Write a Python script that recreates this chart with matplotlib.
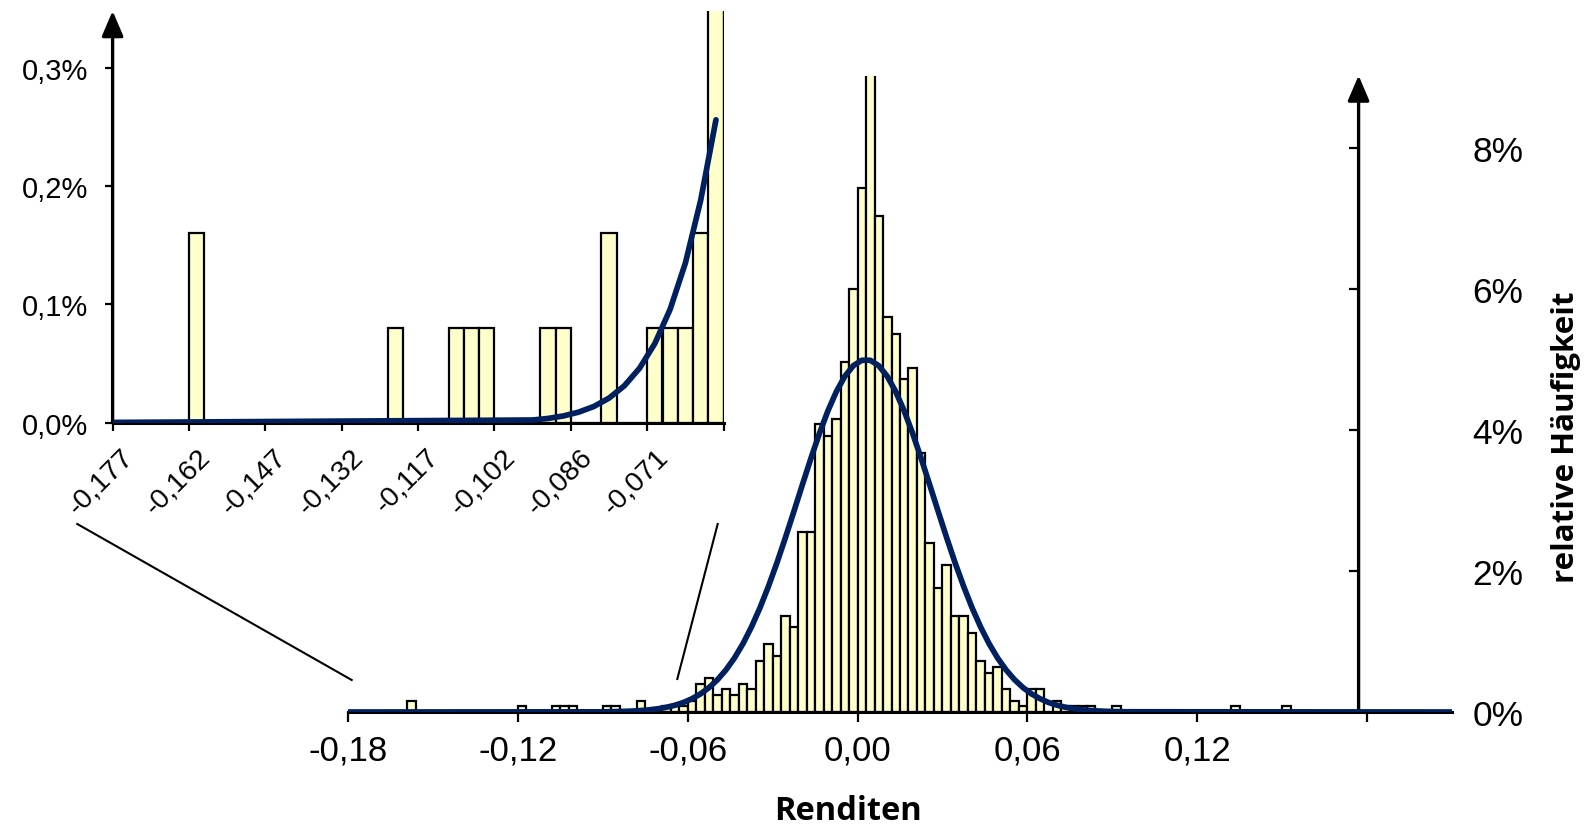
import numpy as np
import matplotlib
matplotlib.use('Agg')
import matplotlib.pyplot as plt
from matplotlib.lines import Line2D
from matplotlib.transforms import ScaledTranslation

plt.rcParams['font.family'] = ['Liberation Sans', 'DejaVu Sans']

# histogram of the returns, bin width 0.003, relative frequency = count / n
bin_width = 0.003
first_bin_left = -0.159
n_obs = 1250
counts = [2, 0, 0, 0, 0, 0, 0, 0, 0, 0, 0, 0, 0,
          1, 0, 0, 0,
          1, 1, 1, 0, 0, 0,
          1, 1, 0, 0,
          2, 0, 0,
          1, 1, 1, 2,
          5, 6, 3, 4, 3, 5, 4, 9, 12, 10, 17, 15, 32, 32, 51, 49, 52, 62, 75,
          93, 131, 88, 70, 67, 59, 61, 46, 30, 22, 26, 17, 17, 14, 9, 7, 8, 4, 2, 1, 4, 4,
          0, 2, 1, 1, 1, 1, 0, 0, 1,
          0, 0, 0, 0, 0, 0, 0, 0, 0, 0, 0, 0, 0,
          1, 0, 0, 0, 0, 0, 1]
bin_centers = first_bin_left + bin_width / 2 + bin_width * np.arange(len(counts))
rel_freq = np.array(counts) / n_obs * 100

# normal curve (in %), read at the bin centres
curve_x = [-0.18, -0.0915, -0.0885, -0.0855, -0.0825, -0.0795, -0.0765, -0.0735, -0.0705,
           -0.0675, -0.0645, -0.0615, -0.0585, -0.0555, -0.0525, -0.0495, -0.0465,
           -0.0435, -0.0405, -0.0375, -0.0345, -0.0315, -0.0285, -0.0255, -0.0225,
           -0.0195, -0.0165, -0.0135, -0.0105, -0.0075, -0.0045, -0.0015,
           0.0015, 0.0045, 0.0075, 0.0105, 0.0135, 0.0165, 0.0195, 0.0225, 0.0255,
           0.0285, 0.0315, 0.0345, 0.0375, 0.0405, 0.0435, 0.0465, 0.0495, 0.0525,
           0.0555, 0.0585, 0.0615, 0.0645, 0.0675, 0.0705, 0.0735, 0.0765, 0.0795,
           0.0825, 0.0855, 0.0885, 0.0915, 0.0945, 0.21]
curve_y = [0.0, 0.0022, 0.0035, 0.0056, 0.0088, 0.0136, 0.0207, 0.0311, 0.0460,
           0.0669, 0.0958, 0.135, 0.188, 0.256, 0.345, 0.457, 0.596,
           0.765, 0.967, 1.204, 1.475, 1.780, 2.113, 2.471, 2.844,
           3.222, 3.595, 3.948, 4.269, 4.544, 4.762, 4.913,
           4.990, 4.990, 4.913, 4.762, 4.544, 4.269, 3.948, 3.595, 3.222,
           2.844, 2.471, 2.113, 1.780, 1.475, 1.204, 0.967, 0.765, 0.596,
           0.457, 0.345, 0.256, 0.188, 0.135, 0.0958, 0.0669, 0.0460, 0.0311,
           0.0207, 0.0136, 0.0088, 0.0056, 0.0035, 0.0]
curve_x = np.array(curve_x)
curve_y = np.array(curve_y)

main_xticks = [-0.18, -0.12, -0.06, 0.0, 0.06, 0.12, 0.18]
main_xlabels = ['-0,18', '-0,12', '-0,06', '0,00', '0,06', '0,12', '']
main_yticks = [0, 2, 4, 6, 8]
main_ylabels = ['0%', '2%', '4%', '6%', '8%']

inset_xticks = [-0.174, -0.159, -0.144, -0.129, -0.114, -0.099, -0.084, -0.069, -0.054]
inset_xlabels = ['-0,177', '-0,162', '-0,147', '-0,132', '-0,117', '-0,102', '-0,086', '-0,071', '']
inset_yticks = [0, 0.1, 0.2, 0.3]
inset_ylabels = ['0,0%', '0,1%', '0,2%', '0,3%']

bar_fill = '#FFFFCC'
curve_color = '#002060'

W, H = 1589, 828
fig = plt.figure(figsize=(W / 100, H / 100), dpi=100)
fig.patch.set_facecolor('white')


def px_axes(left, top, right, bottom):
    return fig.add_axes([left / W, 1 - bottom / H, (right - left) / W, (bottom - top) / H])


arrow = dict(arrowstyle='-|>,head_length=0.7,head_width=0.3', color='black', lw=2.4,
             shrinkA=0, shrinkB=0, mutation_scale=22)

# main chart
ax = px_axes(348, 76.5, 1452, 713)
ax.set_facecolor('none')
ax.bar(bin_centers, rel_freq, width=bin_width, color=bar_fill, edgecolor='black',
       linewidth=1.6, zorder=2)
ax.plot(curve_x, curve_y, color=curve_color, lw=4.1, zorder=4, solid_capstyle='round')
ax.set_xlim(-0.18, 0.21)
ax.set_ylim(0, 9.03)
for s in ['top', 'left', 'right']:
    ax.spines[s].set_visible(False)
ax.spines['bottom'].set_linewidth(2.2)
ax.spines['bottom'].set_zorder(3)
ax.set_xticks(main_xticks, main_xlabels)
ax.tick_params(axis='x', direction='out', length=7.2, width=1.6, pad=8, labelsize=25)
ax.yaxis.tick_right()
ax.spines['right'].set_position(('data', 0.177))
ax.set_yticks(main_yticks, main_ylabels)
ax.tick_params(axis='y', direction='in', length=7.2, width=1.6, pad=82, labelsize=25.5)
ax.annotate('', xy=(0.177, 1), xycoords=('data', 'axes fraction'),
            xytext=(0.177, 0), textcoords=('data', 'axes fraction'),
            arrowprops=arrow, annotation_clip=False)

# zoomed left tail
ax_in = px_axes(112.6, 12, 723.6, 423.6)
ax_in.set_facecolor('none')
ax_in.bar(bin_centers, rel_freq, width=bin_width, color=bar_fill, edgecolor='black',
          linewidth=1.6, zorder=2)
m = curve_x <= -0.0555
ax_in.plot(curve_x[m], curve_y[m], color=curve_color, lw=4.1, zorder=4,
           solid_capstyle='round')
ax_in.set_xlim(-0.174, -0.054)
ax_in.set_ylim(0, 0.348)
for s in ['top', 'left', 'right']:
    ax_in.spines[s].set_visible(False)
ax_in.spines['bottom'].set_linewidth(2.2)
ax_in.spines['bottom'].set_zorder(3)
ax_in.set_xticks(inset_xticks, inset_xlabels, rotation=45, ha='right', va='top',
                 rotation_mode='anchor')
ax_in.tick_params(axis='x', direction='out', length=5.8, width=1.6, pad=9, labelsize=20.5)
for lab in ax_in.get_xticklabels():
    lab.set_transform(lab.get_transform() + ScaledTranslation(0.08, 0, fig.dpi_scale_trans))
ax_in.set_yticks(inset_yticks, inset_ylabels)
ax_in.tick_params(axis='y', direction='out', length=5.8, width=1.6, pad=12, labelsize=21)
ax_in.annotate('', xy=(0, 1), xycoords='axes fraction', xytext=(0, 0),
               textcoords='axes fraction', arrowprops=arrow, annotation_clip=False)

# connector lines between the zoom and the main axis
fig.add_artist(Line2D([77.3 / W, 351.7 / W], [1 - 525 / H, 1 - 681 / H], color='black', lw=1.5))
fig.add_artist(Line2D([717.7 / W, 677.3 / W], [1 - 525 / H, 1 - 680 / H], color='black', lw=1.5))

fig.text(848 / W, 1 - 812 / H, 'Renditen', ha='center', va='center', fontsize=23.5,
         fontweight='bold', family=['Open Sans', 'DejaVu Sans'])
fig.text(1566 / W, 1 - 437 / H, 'relative Häufigkeit', rotation=90, ha='center',
         va='center', fontsize=22.5, fontweight='bold', family=['Open Sans', 'DejaVu Sans'])

fig.savefig('out.png', dpi=100, facecolor='white')
